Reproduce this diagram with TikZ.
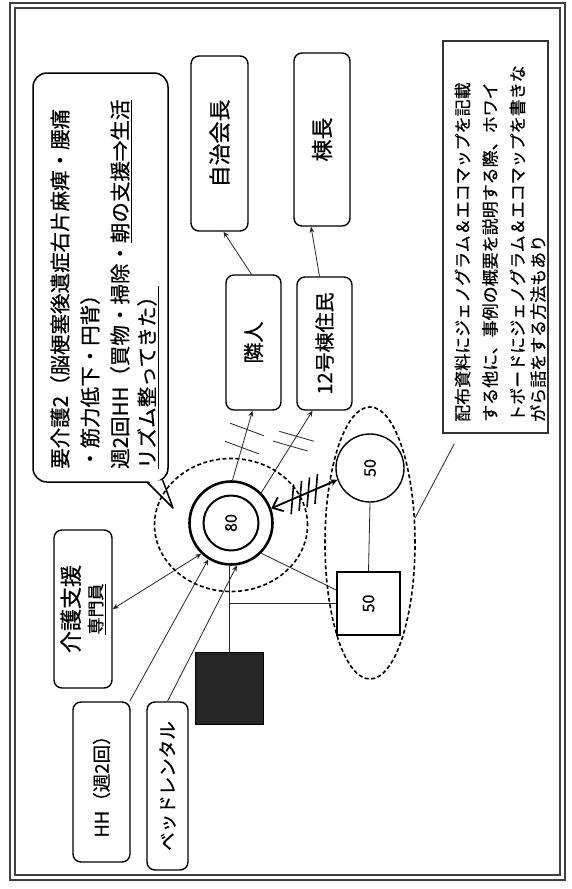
\documentclass[tikz,border=0pt]{standalone}
\usepackage{fontspec}
\usepackage{graphicx}
\setmainfont{Noto Sans CJK JP}[FakeBold=0.6]
\usetikzlibrary{arrows.meta,decorations.markings,calc,shapes.geometric}
\begin{document}
\begin{tikzpicture}[x=1pt,y=-1pt,
  box/.style={draw,rounded corners=8pt,line width=1.4pt,rotate=90,inner sep=0pt,align=center},
  conn/.style={line width=0.8pt,draw=black!85},
  tip/.style={-{Stealth[length=6pt,width=5pt]}},
  dashring/.style={draw,line width=1.6pt,dash pattern=on 4pt off 2.5pt},
  numtext/.style={font=\fontsize{16}{18}\selectfont},
  hatchA/.style={postaction={decorate,decoration={markings,
     mark=at position 0.47 with {\draw[-,line width=0.8pt] (85.7:18pt) -- (-94.3:18pt);},
     mark=at position 0.73 with {\draw[-,line width=0.8pt] (85.7:18pt) -- (-94.3:18pt);}}}},
  hatchB/.style={postaction={decorate,decoration={markings,
     mark=at position 0.57 with {\draw[-,line width=0.8pt] (106:18pt) -- (-74:18pt);},
     mark=at position 0.69 with {\draw[-,line width=0.8pt] (106:18pt) -- (-74:18pt);}}}},
  hatchC/.style={postaction={decorate,decoration={markings,
     mark=at position 0.32 with {\draw[-,line width=1.6pt] (62:15pt) -- (242:15pt);},
     mark=at position 0.44 with {\draw[-,line width=1.6pt] (62:15pt) -- (242:15pt);},
     mark=at position 0.56 with {\draw[-,line width=1.6pt] (62:15pt) -- (242:15pt);},
     mark=at position 0.68 with {\draw[-,line width=1.6pt] (62:15pt) -- (242:15pt);}}}}
]
\useasboundingbox (0,0) rectangle (571,889);
\fill[white] (0,0) rectangle (571,889);
% frame
\draw[double distance=3.8pt,line width=1.3pt,draw=black!75] (12.5,5.5) rectangle (562.5,877.5);

% speech bubble
\node[draw,rounded corners=14pt,line width=1.5pt,minimum width=135pt,minimum height=409pt,inner sep=0] (bubble) at (100.5,277.5) {};
\coordinate (ptip) at (173,508);
\fill[white] ([xshift=-20pt,yshift=1.5pt]bubble.south east) -- (ptip) -- ([xshift=-7pt,yshift=2.5pt]bubble.south east) -- cycle;
\draw[line width=1.5pt,line join=round] ([xshift=-21pt]bubble.south east) -- (ptip) -- ([xshift=-6pt,yshift=2.5pt]bubble.south east);
\node[rotate=90,anchor=north west,inner sep=0,align=left,font=\fontsize{20.5}{30}\selectfont] (btxt) at (50,469)
  {要介護2（脳梗塞後遺症右片麻痺・腰痛\\・筋力低下・円背）\\週2回HH（買物・掃除・\underline{朝の支援⇒生活}\\[-3pt]\underline{リズム整ってきた）}};

% boxes
\node[box,minimum width=175pt,minimum height=57pt,font=\fontsize{22}{26}\selectfont] (jichi) at (219.5,143.5) {自治会長};
\node[box,minimum width=173pt,minimum height=56pt,font=\fontsize{22}{26}\selectfont] (tocho) at (322,139.5) {棟長};
\node[box,minimum width=135pt,minimum height=55pt,font=\fontsize{21}{26}\selectfont] (rinjin) at (253.5,342.5) {隣人};
\node[box,minimum width=133pt,minimum height=55pt,font=\fontsize{20}{26}\selectfont] (jumin) at (324.5,343.5) {12号棟住民};
\node[box,minimum width=158pt,minimum height=58pt,font=\fontsize{22}{23}\selectfont] (kaigo) at (83,609)
  {介護支援\\\fontsize{17}{23}\selectfont\underline{専門員}};
\node[box,minimum width=160pt,minimum height=57pt,font=\fontsize{18.5}{24}\selectfont] (hh) at (101.5,782) {HH（週2回）};
\node[box,minimum width=168pt,minimum height=41pt,font=\fontsize{18.5}{24}\selectfont] (bed) at (167.5,786) {ベッドレンタル};

% note box
\node[draw=black!80,line width=1.3pt,minimum width=105pt,minimum height=392pt,inner sep=0] (note) at (495.5,237) {};
\node[rotate=90,anchor=north west,inner sep=0,align=left,font=\fontsize{17}{27.5}\selectfont] (ntxt) at (454.5,422)
  {配布資料にジェノグラム＆エコマップを記載\\する他に、事例の概要を説明する際、ホワイ\\トボードにジェノグラム＆エコマップを書きな\\[-7pt]がら話をする方法もあり};

% genogram
\node[ellipse,dashring,minimum width=153pt,minimum height=133pt,inner sep=0] (soc) at (231,525) {};
\node[ellipse,dashring,minimum width=90pt,minimum height=272pt,inner sep=0] (fam) at (370,543) {};
\node[circle,draw,line width=2.6pt,minimum size=83pt,inner sep=0] (c80o) at (231,523) {};
\node[circle,draw,line width=2pt,minimum size=55pt,inner sep=0,numtext] (c80) at (231,523) {\rotatebox{90}{80}};
\node[circle,draw,line width=1.4pt,minimum size=68pt,inner sep=0,numtext] (c50) at (370,468) {\rotatebox{90}{50}};
\node[draw,line width=1.6pt,minimum width=63pt,minimum height=63pt,inner sep=0,numtext] (s50) at (368.5,603.5) {\rotatebox{90}{50}};
\node[fill=black!85,draw=black,line width=1pt,minimum width=68pt,minimum height=72pt,inner sep=0] (bsq) at (229,688) {};

% family lines
\draw[conn] (bsq.north) -- (bsq.north |- c80o.south);
\draw[conn] (s50.west) -- (s50.west -| bsq.north);
\draw[conn] (c50.south) -- (s50.north);
\draw[conn] (c80o.-45) -- ([yshift=13.5pt]s50.west);

% connectors
\draw[conn,tip] ([xshift=-2pt]rinjin.east) -- ([xshift=4pt]jichi.west);
\draw[conn,tip] ([xshift=-5pt]jumin.east) -- ([xshift=-11pt]tocho.west);
\draw[conn,tip,hatchA] (c80o.88) -- ([xshift=-1pt]rinjin.west);
\draw[conn,tip,hatchB] (c80o.45) -- ([xshift=-12pt]jumin.west);
\draw[line width=1.8pt,{Straight Barb[length=9pt,width=15pt]}-{Stealth[length=7pt,width=7pt]},hatchC] (c80o.20) -- (c50.200);
\draw[conn,{Stealth[length=6pt,width=5pt]}-{Stealth[length=6pt,width=5pt]}] (kaigo.south) -- (c80o.226);
\draw[conn,tip] ([xshift=-1pt]hh.south east) -- (c80o.238);
\draw[conn,tip] (bed.east) -- (c80o.278);
\draw[conn] ([xshift=12pt,yshift=-10pt]note.south west) -- (fam.29);
\end{tikzpicture}
\end{document}
